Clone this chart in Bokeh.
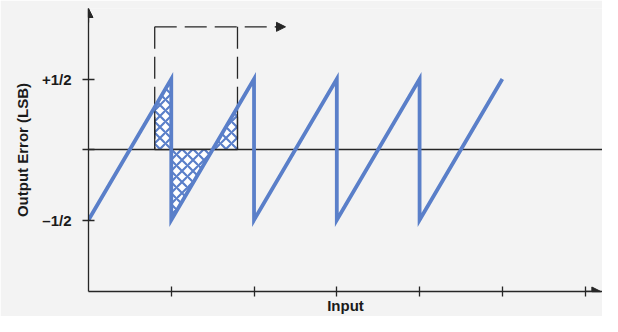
from bokeh.plotting import figure
from bokeh.models import Range1d, FixedTicker, Span, Arrow, NormalHead
from bokeh.embed import file_html
from bokeh.resources import INLINE

# ---- data ----
saw_x = [0, 1, 1, 2, 2, 3, 3, 4, 4, 5]
saw_y = [-0.5, 0.5, -0.5, 0.5, -0.5, 0.5, -0.5, 0.5, -0.5, 0.5]
x_ticks = [1, 2, 3, 4, 5, 6]
y_ticks = [-0.5, 0.0, 0.5]
y_tick_labels = ["\u20131/2", "", "+1/2"]
# one-LSB averaging window and the hatched error area inside it
win_left = 0.8
win_right = 1.8
win_top = 0.87
win_arrow_end = 2.38
shade_x = [0.8, 0.8, 1.0, 1.0, 1.8, 1.8]
shade_y = [0.0, 0.3, 0.5, -0.5, 0.3, 0.0]

BLUE = "#5a7fc9"
INK = "#262626"
BG = "#f3f3f3"
FONT = "Liberation Sans"

p = figure(width=602, height=316, output_backend="svg", toolbar_location=None,
           x_range=Range1d(0, 6.21), y_range=Range1d(-1.007, 1.0),
           min_border_left=88, min_border_right=0, min_border_top=8, min_border_bottom=23)
p.background_fill_color = BG
p.border_fill_color = BG
p.outline_line_color = None
p.grid.visible = False

# axes
xa = p.xaxis[0]
xa.ticker = FixedTicker(ticks=x_ticks)
xa.major_label_overrides = {t: "" for t in x_ticks}
xa.major_label_text_font_size = "1px"
xa.major_tick_in = 5
xa.major_tick_out = 5
xa.minor_tick_line_color = None
xa.axis_label = "Input"
xa.axis_label_standoff = 0

ya = p.yaxis[0]
ya.ticker = FixedTicker(ticks=y_ticks)
ya.major_label_overrides = {t: l for t, l in zip(y_ticks, y_tick_labels)}
ya.major_tick_in = 6
ya.major_tick_out = 6
ya.minor_tick_line_color = None
ya.major_label_standoff = 11
ya.axis_label = "Output Error (LSB)"
ya.axis_label_standoff = 8

for ax in (xa, ya):
    ax.axis_line_color = INK
    ax.axis_line_width = 1.3
    ax.major_tick_line_color = INK
    ax.major_tick_line_width = 1.3
    ax.axis_label_text_font = FONT
    ax.axis_label_text_font_style = "bold"
    ax.axis_label_text_font_size = "15px"
    ax.axis_label_text_color = "#1a1a1a"
    ax.major_label_text_font = FONT
    ax.major_label_text_font_style = "bold"
    ax.major_label_text_color = "#1a1a1a"
ya.major_label_text_font_size = "15px"

# zero line
p.add_layout(Span(location=0, dimension="width", line_color=INK, line_width=1.3, level="underlay"))

# hatched error area
p.patch(shade_x, shade_y, fill_color="white", fill_alpha=1, hatch_pattern="x",
        hatch_color=BLUE, hatch_scale=11, hatch_weight=2.2,
        line_color=INK, line_width=1.3)

# dashed window
p.segment(x0=[win_left, win_left, win_right], y0=[win_top, win_top, win_top],
          x1=[win_left, win_arrow_end - 0.05, win_right], y1=[0, win_top, 0],
          line_color=INK, line_width=1.3, line_dash="22 8")
p.add_layout(Arrow(x_start=win_arrow_end - 0.12, y_start=win_top, x_end=win_arrow_end, y_end=win_top,
                   line_color=INK, line_width=1.3,
                   end=NormalHead(size=9, fill_color=INK, line_color=INK)))

# sawtooth
p.line(saw_x, saw_y, line_color=BLUE, line_width=3.8, line_join="miter")

# axis arrowheads
p.add_layout(Arrow(x_start=0, y_start=0.9, x_end=0, y_end=1.0, line_color=INK, line_width=1.3,
                   end=NormalHead(size=9, fill_color=INK, line_color=INK)))
p.add_layout(Arrow(x_start=6.0, y_start=-1.007, x_end=6.19, y_end=-1.007, line_color=INK, line_width=1.3,
                   end=NormalHead(size=9, fill_color=INK, line_color=INK)))

open("out.html", "w").write(file_html(p, INLINE))
